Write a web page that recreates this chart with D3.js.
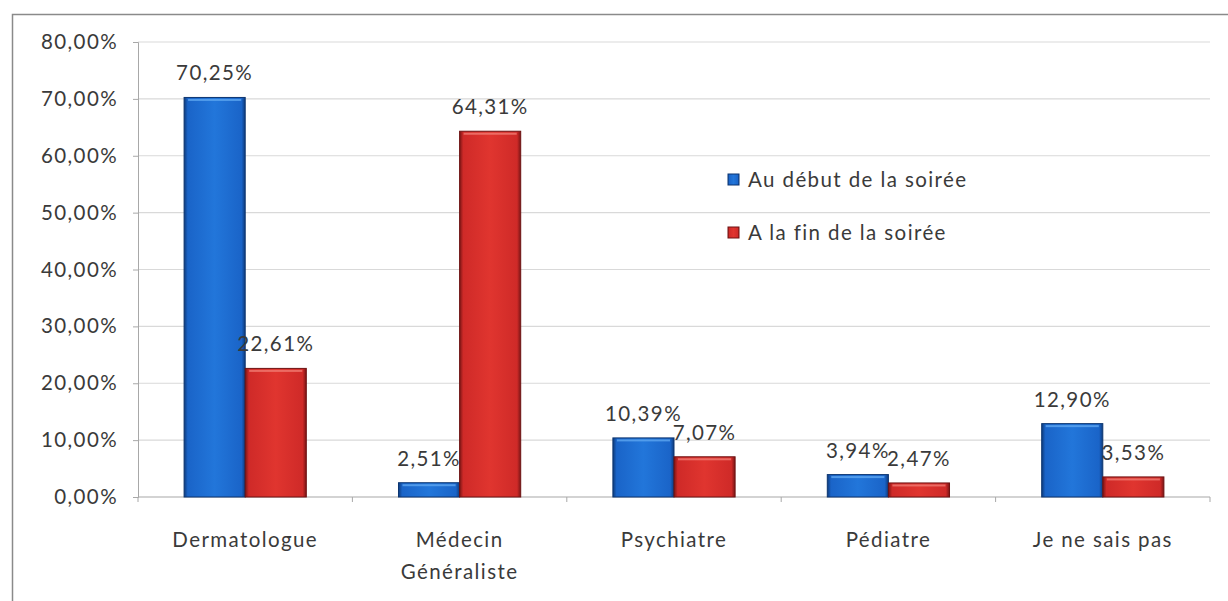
<!DOCTYPE html>
<html>
<head>
<meta charset="utf-8">
<script src="https://cdn.jsdelivr.net/npm/d3@7"></script>
<style>
  body { margin: 0; background: #fff; }
  text { font-family: Lato, "Open Sans", sans-serif; fill: #3a3a3a; letter-spacing: 1.4px; }
</style>
</head>
<body>
<div id="output"></div>
<script>
var w = 1228;
var h = 601;

var categories = [['Dermatologue'], ['Médecin', 'Généraliste'], ['Psychiatre'], ['Pédiatre'], ['Je ne sais pas']];
var seriesNames = ['Au début de la soirée', 'A la fin de la soirée'];
var debut = [70.25, 2.51, 10.39, 3.94, 12.90];
var fin = [22.61, 64.31, 7.07, 2.47, 3.53];
var yTicks = [0, 10, 20, 30, 40, 50, 60, 70, 80];

var plot = { left: 138, right: 1210, top: 42, bottom: 497 };
var fontSize = 20.5;

var svg = d3.select('#output').append('svg')
  .attr('width', w)
  .attr('height', h);

// outer frame (runs off the picture on the right and bottom)
svg.append('rect')
  .attr('x', 12.5).attr('y', 14.5)
  .attr('width', 1240).attr('height', 620)
  .attr('fill', 'none')
  .attr('stroke', '#8a8a8a')
  .attr('stroke-width', 1.5);

var defs = svg.append('defs');
function bevel(id, edge, mid, light) {
  var g = defs.append('linearGradient').attr('id', id)
    .attr('x1', 0).attr('x2', 1).attr('y1', 0).attr('y2', 0);
  g.append('stop').attr('offset', '0%').attr('stop-color', edge);
  g.append('stop').attr('offset', '6%').attr('stop-color', mid);
  g.append('stop').attr('offset', '50%').attr('stop-color', light);
  g.append('stop').attr('offset', '94%').attr('stop-color', mid);
  g.append('stop').attr('offset', '100%').attr('stop-color', edge);
}
bevel('gBlue', '#0e3b7c', '#1a64c8', '#2276da');
bevel('gRed', '#7a1515', '#cf2a28', '#e0352f');

var x0 = d3.scaleBand()
  .domain(d3.range(categories.length))
  .range([plot.left, plot.right])
  .paddingInner(0.43)
  .paddingOuter(0.215);

var x1 = d3.scaleBand()
  .domain([0, 1])
  .range([0, x0.bandwidth()]);

var y = d3.scaleLinear()
  .domain([0, 80])
  .range([plot.bottom, plot.top]);

// gridlines
svg.append('g').selectAll('line')
  .data(yTicks)
  .enter()
  .append('line')
  .attr('x1', plot.left).attr('x2', plot.right)
  .attr('y1', function (d) { return y(d); })
  .attr('y2', function (d) { return y(d); })
  .attr('stroke', function (d) { return d === 0 ? '#a8a8a8' : '#d9d9d9'; })
  .attr('stroke-width', 1.2);

// y axis
var yAxis = d3.axisLeft(y)
  .tickValues(yTicks)
  .tickSize(5)
  .tickFormat(function (d) { return d3.format('.2f')(d).replace('.', ',') + '%'; });
var gy = svg.append('g')
  .attr('transform', 'translate(' + plot.left + ',0)')
  .call(yAxis);
gy.select('.domain').attr('stroke', '#a8a8a8');
gy.selectAll('.tick line').attr('stroke', '#a8a8a8');
gy.selectAll('.tick text')
  .attr('x', -20)
  .attr('font-size', fontSize)
  .attr('font-family', 'Lato, sans-serif')
  .attr('fill', '#3a3a3a');

// x axis ticks at category boundaries
var step = (plot.right - plot.left) / categories.length;
svg.append('g').selectAll('line')
  .data(d3.range(categories.length + 1))
  .enter()
  .append('line')
  .attr('x1', function (d) { return plot.left + d * step; })
  .attr('x2', function (d) { return plot.left + d * step; })
  .attr('y1', plot.bottom)
  .attr('y2', plot.bottom + 5)
  .attr('stroke', '#a8a8a8');

// category labels
var catText = svg.append('g').selectAll('text')
  .data(categories)
  .enter()
  .append('text')
  .attr('text-anchor', 'middle')
  .attr('font-size', fontSize)
  .attr('x', function (d, i) { return x0(i) + x0.bandwidth() / 2; })
  .attr('y', 547);
catText.selectAll('tspan')
  .data(function (d) { return d; })
  .enter()
  .append('tspan')
  .attr('x', function () { return d3.select(this.parentNode).attr('x'); })
  .attr('dy', function (d, i) { return i === 0 ? 0 : 32; })
  .text(function (d) { return d; });

// bars
var series = [debut, fin];
var fills = ['url(#gBlue)', 'url(#gRed)'];
var strokes = ['#0c3570', '#6e1212'];
var highlights = ['#5ea6f0', '#f07a72'];

series.forEach(function (vals, s) {
  var g = svg.append('g');
  g.selectAll('rect.bar')
    .data(vals)
    .enter()
    .append('rect')
    .attr('class', 'bar')
    .attr('x', function (d, i) { return x0(i) + x1(s); })
    .attr('y', function (d) { return y(d); })
    .attr('width', x1.bandwidth())
    .attr('height', function (d) { return plot.bottom - y(d); })
    .attr('fill', fills[s])
    .attr('stroke', strokes[s])
    .attr('stroke-width', 1);
  g.selectAll('rect.hi')
    .data(vals)
    .enter()
    .append('rect')
    .attr('class', 'hi')
    .attr('x', function (d, i) { return x0(i) + x1(s) + 4; })
    .attr('y', function (d) { return y(d) + 1.5; })
    .attr('width', x1.bandwidth() - 8)
    .attr('height', 2)
    .attr('fill', highlights[s])
    .attr('opacity', 0.8);
});

// value labels
series.forEach(function (vals, s) {
  svg.append('g').selectAll('text')
    .data(vals)
    .enter()
    .append('text')
    .attr('text-anchor', 'middle')
    .attr('font-size', fontSize)
    .attr('x', function (d, i) { return x0(i) + x1(s) + x1.bandwidth() / 2; })
    .attr('y', function (d) { return y(d) - 17; })
    .text(function (d) { return d3.format('.2f')(d).replace('.', ',') + '%'; });
});

// legend
var legend = svg.append('g').selectAll('g')
  .data(seriesNames)
  .enter()
  .append('g')
  .attr('transform', function (d, i) { return 'translate(728,' + (180 + i * 53) + ')'; });
legend.append('rect')
  .attr('x', 0).attr('y', -6)
  .attr('width', 11).attr('height', 11)
  .attr('fill', function (d, i) { return fills[i]; })
  .attr('stroke', function (d, i) { return strokes[i]; });
legend.append('text')
  .attr('x', 20)
  .attr('y', 7)
  .attr('font-size', fontSize)
  .text(function (d) { return d; });
</script>
</body>
</html>
